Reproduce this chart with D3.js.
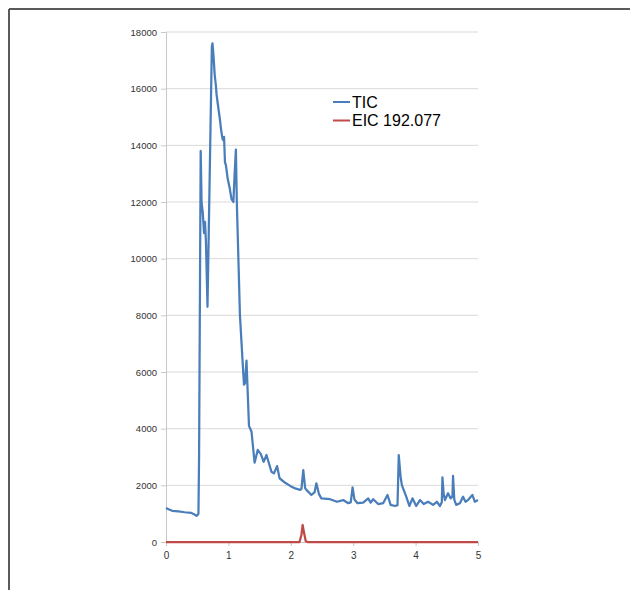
<!DOCTYPE html>
<html>
<head>
<meta charset="utf-8">
<script src="https://cdn.jsdelivr.net/npm/d3@7"></script>
<style>
  body { margin: 0; background: #fff; }
  svg { display: block; }
</style>
</head>
<body>
<svg width="630" height="590"></svg>
<script>
// retention time (min) and intensity
const ticTime = [0, 0.05, 0.1, 0.2, 0.3, 0.4, 0.45, 0.49, 0.52, 0.53, 0.556, 0.57, 0.59, 0.61, 0.625, 0.64, 0.665,
    0.735, 0.745, 0.76, 0.78, 0.8, 0.81, 0.84, 0.865, 0.88, 0.9, 0.91, 0.93, 0.945, 0.96, 0.99, 1.02, 1.05, 1.08, 1.1, 1.12,
    1.135, 1.16, 1.185, 1.24, 1.25, 1.265, 1.29, 1.33, 1.37, 1.42, 1.47, 1.52, 1.565, 1.61, 1.69, 1.73, 1.78, 1.82,
    1.91, 1.99, 2.07, 2.15, 2.17, 2.2, 2.23, 2.25, 2.33, 2.38, 2.41, 2.45, 2.49, 2.63, 2.74, 2.84, 2.92, 2.96, 2.99, 3.02, 3.07,
    3.16, 3.24, 3.28, 3.32, 3.4, 3.48, 3.55, 3.6, 3.67, 3.71, 3.73, 3.76, 3.78, 3.85, 3.9, 3.95, 4.01, 4.07, 4.13, 4.2,
    4.28, 4.34, 4.39, 4.42, 4.43, 4.45, 4.47, 4.52, 4.56, 4.59, 4.6, 4.62, 4.65, 4.71, 4.76, 4.8, 4.84, 4.91, 4.95, 5];
const ticValue = [1200, 1150, 1100, 1080, 1050, 1030, 980, 920, 1000, 3000, 13800, 12000, 11600, 10900, 11300, 10600, 8300,
    17500, 17600, 17200, 16500, 16100, 15800, 15300, 14900, 14600, 14300, 14200, 14300, 13400, 13300, 12800, 12500, 12100, 12000, 13000, 13850,
    12000, 10000, 8000, 5900, 5550, 5600, 6400, 4100, 3900, 2800, 3250, 3100, 2830, 3070, 2480, 2420, 2680, 2250,
    2090, 1980, 1890, 1840, 1870, 2540, 1900, 1840, 1660, 1750, 2070, 1700, 1540, 1510, 1420, 1480, 1370, 1400, 1930, 1500, 1370,
    1390, 1540, 1390, 1510, 1340, 1370, 1660, 1310, 1270, 1300, 3070, 2300, 2010, 1600, 1270, 1540, 1270, 1480, 1340, 1420,
    1310, 1420, 1270, 1400, 2280, 1700, 1480, 1720, 1540, 1600, 2330, 1500, 1310, 1370, 1600, 1420, 1480, 1660, 1420, 1480];

const eicTime = [0, 2.14, 2.17, 2.19, 2.21, 2.24, 2.27, 5];
const eicValue = [0, 0, 250, 600, 350, 30, 0, 0];

const yTicks = [0, 2000, 4000, 6000, 8000, 10000, 12000, 14000, 16000, 18000];
const xTicks = [0, 1, 2, 3, 4, 5];
const seriesNames = ['TIC', 'EIC 192.077'];
const seriesColors = ['#4a7ebb', '#be4b48'];

const svg = d3.select('svg');

// outer frame (only top and left edges are visible)
svg.append('line').attr('x1', 9).attr('y1', 9).attr('x2', 630).attr('y2', 9)
    .attr('stroke', '#5a5a5a').attr('stroke-width', 2);
svg.append('line').attr('x1', 9).attr('y1', 9).attr('x2', 9).attr('y2', 590)
    .attr('stroke', '#5a5a5a').attr('stroke-width', 2);

const x = d3.scaleLinear().domain([0, 5]).range([166, 478]);
const y = d3.scaleLinear().domain([0, 18000]).range([542, 32]);

// gridlines
svg.append('g')
    .selectAll('line')
    .data(yTicks.filter(d => d > 0))
    .enter().append('line')
    .attr('x1', x(0)).attr('x2', x(5))
    .attr('y1', d => y(d)).attr('y2', d => y(d))
    .attr('stroke', '#d9d9d9').attr('stroke-width', 1);

const yAxis = d3.axisLeft(y).tickValues(yTicks).tickSize(5).tickPadding(4).tickFormat(d3.format('d'));
const gy = svg.append('g').attr('transform', 'translate(' + x(0) + ',0)').call(yAxis);
gy.select('.domain').attr('stroke', '#c8c8c8');
gy.selectAll('.tick line').attr('stroke', '#c8c8c8');
gy.selectAll('text').attr('font-family', 'Liberation Sans, Arial, sans-serif').attr('font-size', 9.5).attr('fill', '#333');

const xAxis = d3.axisBottom(x).tickValues(xTicks).tickSize(4).tickPadding(6).tickFormat(d3.format('d'));
const gx = svg.append('g').attr('transform', 'translate(0,' + y(0) + ')').call(xAxis);
gx.select('.domain').attr('stroke', '#c8c8c8');
gx.selectAll('.tick line').attr('stroke', '#c8c8c8');
gx.selectAll('text').attr('font-family', 'Liberation Sans, Arial, sans-serif').attr('font-size', 10).attr('fill', '#333');

const line = d3.line()
    .x(d => x(d[0]))
    .y(d => y(d[1]));

const tic = ticTime.map((t, i) => [t, ticValue[i]]);
const eic = eicTime.map((t, i) => [t, eicValue[i]]);

svg.append('path')
    .attr('d', line(eic))
    .attr('fill', 'none')
    .attr('stroke', seriesColors[1])
    .attr('stroke-width', 2.25)
    .attr('stroke-linejoin', 'round');

svg.append('path')
    .attr('d', line(tic))
    .attr('fill', 'none')
    .attr('stroke', seriesColors[0])
    .attr('stroke-width', 2.25)
    .attr('stroke-linejoin', 'round');

// legend
const legend = svg.append('g').attr('transform', 'translate(333, 102)');
const items = legend.selectAll('g')
    .data(seriesNames)
    .enter().append('g')
    .attr('transform', (d, i) => 'translate(0,' + (i * 18.5) + ')');
items.append('line')
    .attr('x1', 0).attr('x2', 17)
    .attr('stroke', (d, i) => seriesColors[i])
    .attr('stroke-width', 2);
items.append('text')
    .attr('x', 19).attr('y', 5.5)
    .attr('font-family', 'Liberation Sans, Arial, sans-serif')
    .attr('font-size', 16)
    .attr('fill', '#000')
    .text(d => d);
</script>
</body>
</html>
